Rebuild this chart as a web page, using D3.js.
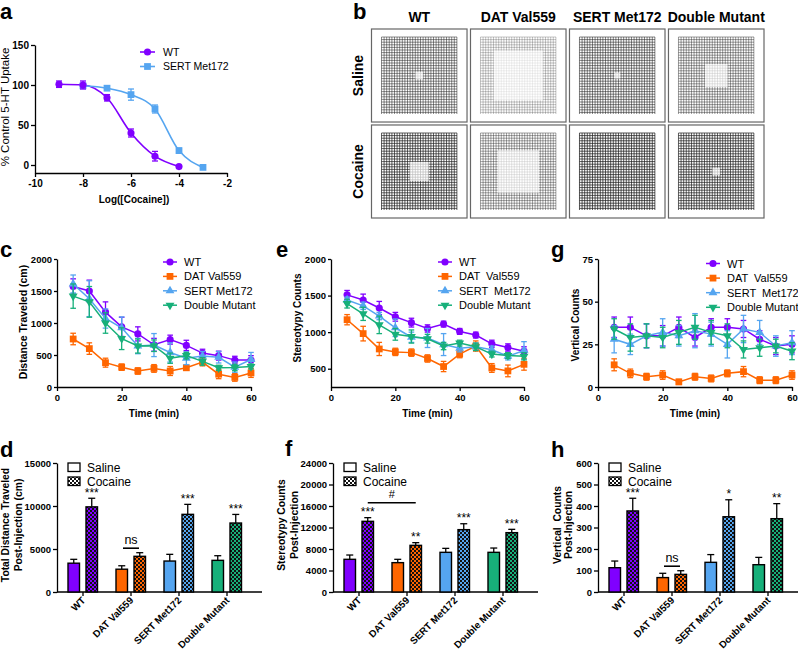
<!DOCTYPE html>
<html><head><meta charset="utf-8">
<script src="https://cdn.jsdelivr.net/npm/d3@7"></script>
<style>body{margin:0;background:#fff}svg{display:block}text{white-space:pre}</style>
</head><body><svg id="fig" width="798" height="652"></svg>
<script>
// ---------- DATA ----------
// Panel a
const wtLogConc = [-9,-8,-7,-6,-5,-4];
const wtUptake = [101,100,84,40,11,-2];
const wtUptakeErr = [4,5,4,5,6,1];
const sertLogConc = [-8,-7,-6,-5,-4,-3];
const sertUptake = [99,96,88,70,18,-3];
const sertUptakeErr = [2,2,7,5,3,1];
const aXTicks = [-10,-8,-6,-4,-2];
const aYTicks = [0,50,100,150];
const aLegend = ["WT","SERT Met172"];

// Panel b
const trackCols = ["WT","DAT Val559","SERT Met172","Double Mutant"];
const trackRows = ["Saline","Cocaine"];
const trackDensity = [[0.7,0.35,0.75,0.6],[0.95,0.55,1.0,0.95]];
const trackCenterClear = [[0.1,0.65,0.08,0.3],[0.25,0.55,0.0,0.1]];

// Panels c, e, g
const timeMin = [5,10,15,20,25,30,35,40,45,50,55,60];
const timeTicks = [0,20,40,60];
const seriesNames = ["WT","DAT Val559","SERT Met172","Double Mutant"];
const seriesNamesWide = ["WT","DAT  Val559","SERT  Met172","Double Mutant"];

const distWT = [1570,1500,1170,940,830,660,740,650,530,490,420,420];
const distWTErr = [120,170,160,150,110,100,70,80,60,70,60,70];
const distDAT = [750,600,380,310,250,290,250,300,390,200,150,220];
const distDATErr = [90,90,70,50,50,60,70,40,60,70,60,70];
const distSERT = [1610,1380,1070,925,640,655,540,450,485,465,310,430];
const distSERTErr = [140,280,150,170,120,180,150,100,70,90,80,110];
const distDM = [1420,1330,1000,755,640,645,450,490,400,300,305,320];
const distDMErr = [190,240,160,170,110,90,80,50,60,40,50,40];
const distYTicks = [0,500,1000,1500,2000];

const stereoWT = [1510,1440,1330,1210,1130,1050,1110,1010,960,840,790,740];
const stereoWTErr = [60,80,90,60,60,50,40,40,40,50,50,60];
const stereoDAT = [1170,980,770,730,720,640,530,700,810,510,470,560];
const stereoDATErr = [70,100,90,50,50,50,70,50,70,60,80,80];
const stereoSERT = [1440,1360,1220,1060,930,920,830,780,800,760,670,750];
const stereoSERTErr = [40,50,50,120,70,130,150,50,50,50,50,120];
const stereoDM = [1390,1250,1100,970,940,910,810,850,800,700,680,670];
const stereoDMErr = [60,90,120,80,90,60,50,40,50,40,40,50];
const stereoYTicks = [500,1000,1500,2000];

const vertWT = [35,35,30,30,35,29,35,35,34,28,24,25];
const vertWTErr = [6,6,7,6,6,5,5,5,5,5,5,5];
const vertDAT = [13,8,6,7,3,6,5,8,9,4,4,7];
const vertDATErr = [3.5,2.5,2,2.5,1.5,2,2,2,3,2,2,2.5];
const vertSERT = [28,25,30,32,30,33,31,25,34,32,24,26];
const vertSERTErr = [8,6,7,8,6,10,7,8,8,7,6,7];
const vertDM = [34,29,30,29,32,35,32,30,22,23,24,21];
const vertDMErr = [6,8,7,6,7,7,7,7,5,5,4,5];
const vertYTicks = [0,25,50,75];

// Panels d, f, h
const groups = ["WT","DAT Val559","SERT Met172","Double Mutant"];
const treatments = ["Saline","Cocaine"];
const totDistSaline = [3350,2650,3600,3680];
const totDistSalineErr = [450,400,780,540];
const totDistCocaine = [9900,4150,9030,8020];
const totDistCocaineErr = [1000,420,1160,1000];
const totDistSig = ["***","","***","***"];
const totDistTicks = [0,5000,10000,15000];

const stereoTotSaline = [6080,5460,7380,7380];
const stereoTotSalineErr = [800,620,740,800];
const stereoTotCocaine = [13150,8680,11600,11040];
const stereoTotCocaineErr = [680,500,1100,620];
const stereoTotSig = ["***","**","***","***"];
const stereoTotTicks = [0,4000,8000,12000,16000,20000,24000];
const stereoHashLevel = 16600;

const vertTotSaline = [113,67,138,127];
const vertTotSalineErr = [31,20,36,34];
const vertTotCocaine = [377,82,350,341];
const vertTotCocaineErr = [59,17,79,70];
const vertTotSig = ["***","","*","**"];
const vertTotTicks = [0,100,200,300,400,500,600];

// ---------- STYLE ----------
const FONT = "'Liberation Sans', Arial, Helvetica, sans-serif";
const colors = ["#8000FF","#FF6600","#55A5F0","#17B07A"];
const svg = d3.select("#fig");
const defs = svg.append("defs");
const fmt = d => d3.format("d")(d).replace("\u2212","-");

function styleAxis(sel, fs){
  sel.attr("font-family",FONT).attr("font-size",fs).attr("font-weight","bold");
  sel.selectAll("path,line").attr("stroke","#000").attr("stroke-width",1.3);
  sel.selectAll("text").attr("fill","#000");
}
function label(x,y,t,opt={}){
  const s = svg.append("text").attr("x",x).attr("y",y).text(t)
    .attr("font-family",FONT).attr("font-size",opt.size||10)
    .attr("font-weight",opt.weight||"normal").attr("fill","#000")
    .attr("text-anchor",opt.anchor||"start");
  if(opt.rotate!==undefined) s.attr("transform",`rotate(${opt.rotate},${x},${y})`);
  return s;
}
function letter(x,y,t){ label(x,y,t,{size:22,weight:"bold"}); }

// patterns
colors.concat(["#FFFFFF"]).forEach((c,i)=>{
  const p = defs.append("pattern").attr("id","chk"+i).attr("patternUnits","userSpaceOnUse")
    .attr("width",4).attr("height",4);
  p.append("rect").attr("width",4).attr("height",4).attr("fill",c);
  p.append("rect").attr("width",2).attr("height",2).attr("fill","#111");
  p.append("rect").attr("x",2).attr("y",2).attr("width",2).attr("height",2).attr("fill","#111");
});

const symTypes = [d3.symbolCircle, d3.symbolSquare, d3.symbolTriangle, d3.symbolTriangle];
const symSizes = [40, 46, 34, 34];
const symRot = [0,0,0,180];
function marker(g,x,y,shape,ci){
  g.append("path").attr("d",d3.symbol().type(symTypes[shape]).size(symSizes[shape])())
    .attr("transform",`translate(${x},${y}) rotate(${symRot[shape]})`).attr("fill",colors[ci]);
}
function errBar(g,x,yLo,yHi,col,cap){
  g.append("line").attr("x1",x).attr("x2",x).attr("y1",yLo).attr("y2",yHi).attr("stroke",col).attr("stroke-width",1.3);
  [yLo,yHi].forEach(yy=>g.append("line").attr("x1",x-cap).attr("x2",x+cap).attr("y1",yy).attr("y2",yy).attr("stroke",col).attr("stroke-width",1.3));
}

// ---------- PANEL A ----------
(function(){
  const g = svg.append("g");
  const x = d3.scaleLinear().domain([-10,-2]).range([35,227]);
  const y = d3.scaleLinear().domain([-10,150]).range([173,45]);
  g.append("g").attr("transform","translate(0,173)")
    .call(d3.axisBottom(x).tickValues(aXTicks).tickSize(4).tickSizeOuter(0).tickPadding(3).tickFormat(fmt))
    .call(s=>styleAxis(s,10));
  g.append("g").attr("transform","translate(35,0)")
    .call(d3.axisLeft(y).tickValues(aYTicks).tickSize(4).tickSizeOuter(0).tickPadding(2).tickFormat(fmt))
    .call(s=>styleAxis(s,10));
  const sets = [[wtLogConc,wtUptake,wtUptakeErr,0,0],[sertLogConc,sertUptake,sertUptakeErr,2,1]];
  const line = d3.line().curve(d3.curveMonotoneX).x(d=>x(d[0])).y(d=>y(d[1]));
  sets.forEach(([xs,ys,es,ci])=>{
    const pts = xs.map((v,i)=>[v,ys[i]]);
    g.append("path").attr("d",line(pts)).attr("fill","none").attr("stroke",colors[ci]).attr("stroke-width",1.6);
  });
  sets.slice().reverse().forEach(([xs,ys,es,ci,sh])=>{
    xs.forEach((v,i)=>{
      errBar(g,x(v),y(ys[i]-es[i]),y(ys[i]+es[i]),colors[ci],3);
      marker(g,x(v),y(ys[i]),sh,ci);
    });
  });
  aLegend.forEach((t,i)=>{
    const yy = 52 + i*14.5, ci = i===0?0:2;
    g.append("line").attr("x1",140).attr("x2",155).attr("y1",yy).attr("y2",yy).attr("stroke",colors[ci]).attr("stroke-width",1.6);
    marker(g,147.5,yy,i,ci);
    label(163,yy+3.8,t,{size:10.5});
  });
  label(134,203,"Log([Cocaine])",{size:10,weight:"bold",anchor:"middle"});
  label(9,107,"% Control 5-HT Uptake",{size:11.5,anchor:"middle",rotate:-90});
  letter(0,19,"a");
})();

// ---------- PANEL B ----------
(function(){
  const g = svg.append("g");
  const bx = d3.scaleBand().domain(trackCols).range([371.5,764]).paddingInner(0.035);
  const by = d3.scaleBand().domain(trackRows).range([29,218]).paddingInner(0.031);
  trackCols.forEach(c=>label(bx(c)+bx.bandwidth()/2,22,c,{size:14,weight:"bold",anchor:"middle"}));
  trackRows.forEach(r=>label(363,by(r)+by.bandwidth()/2,r,{size:14,weight:"bold",anchor:"middle",rotate:-90}));
  trackRows.forEach((r,ri)=>trackCols.forEach((c,ci)=>{
    const x0=bx(c), y0=by(r), w=bx.bandwidth(), h=by.bandwidth();
    const ix=x0+10, iy=y0+8, iw=w-20, ih=h-16;
    const dens = trackDensity[ri][ci];
    let p="";
    for(let k=0;k<=iw;k+=2.6) p+=`M${ix+k},${iy}V${iy+ih}`;
    for(let k=0;k<=ih;k+=2.6) p+=`M${ix},${iy+k}H${ix+iw}`;
    g.append("path").attr("d",p).attr("stroke","#222").attr("stroke-width",0.75).attr("stroke-opacity",dens).attr("fill","none");
    const cl = trackCenterClear[ri][ci];
    if(cl>0){
      const cw=iw*cl, chh=ih*cl;
      g.append("rect").attr("x",ix+(iw-cw)/2).attr("y",iy+(ih-chh)/2).attr("width",cw).attr("height",chh)
        .attr("fill","#fff").attr("fill-opacity",0.7);
    }
    g.append("rect").attr("x",x0).attr("y",y0).attr("width",w).attr("height",h)
      .attr("fill","none").attr("stroke","#666").attr("stroke-width",1.2);
  }));
  letter(353,19,"b");
})();

// ---------- LINE PANELS ----------
function linePanel(cfg){
  const g = svg.append("g");
  const x = d3.scaleLinear().domain([0,60]).range([cfg.left,cfg.right]);
  const y = d3.scaleLinear().domain(cfg.yDomain).range([387,259]);
  g.append("g").attr("transform","translate(0,387)")
    .call(d3.axisBottom(x).tickValues(timeTicks).tickSize(4).tickSizeOuter(0).tickPadding(3).tickFormat(fmt))
    .call(s=>styleAxis(s,9.5));
  g.append("g").attr("transform",`translate(${cfg.left},0)`)
    .call(d3.axisLeft(y).tickValues(cfg.yTicks).tickSize(3).tickSizeOuter(0).tickPadding(2).tickFormat(fmt))
    .call(s=>styleAxis(s,9.5));
  const line = d3.line().x((d,i)=>x(timeMin[i])).y(d=>y(d));
  cfg.series.forEach(([vals,errs],si)=>{
    g.append("path").attr("d",line(vals)).attr("fill","none").attr("stroke",colors[si]).attr("stroke-width",1.5);
    vals.forEach((v,i)=>errBar(g,x(timeMin[i]),y(v-errs[i]),y(v+errs[i]),colors[si],2.8));
    vals.forEach((v,i)=>marker(g,x(timeMin[i]),y(v),si,si));
  });
  cfg.legendNames.forEach((t,i)=>{
    const yy = cfg.legY + i*cfg.legStep;
    g.append("line").attr("x1",cfg.legX).attr("x2",cfg.legX+14).attr("y1",yy).attr("y2",yy).attr("stroke",colors[i]).attr("stroke-width",1.5);
    marker(g,cfg.legX+7,yy,i,i);
    label(cfg.legX+21,yy+4,t,{size:11});
  });
  label((cfg.left+cfg.right)/2,417,"Time (min)",{size:10,weight:"bold",anchor:"middle"});
  label(cfg.titleX,cfg.titleY,cfg.title,{size:cfg.titleSize,weight:"bold",anchor:"middle",rotate:-90});
  letter(cfg.letterX,257,cfg.letter);
}
linePanel({left:57,right:251,yDomain:[0,2000],yTicks:distYTicks,
  series:[[distWT,distWTErr],[distDAT,distDATErr],[distSERT,distSERTErr],[distDM,distDMErr]],
  legendNames:seriesNames,legX:163,legY:262,legStep:14.4,
  title:"Distance Traveled (cm)",titleX:27,titleY:322,titleSize:10.5,letter:"c",letterX:0});
linePanel({left:331,right:524,yDomain:[250,2000],yTicks:stereoYTicks,
  series:[[stereoWT,stereoWTErr],[stereoDAT,stereoDATErr],[stereoSERT,stereoSERTErr],[stereoDM,stereoDMErr]],
  legendNames:seriesNamesWide,legX:438,legY:262,legStep:14.4,
  title:"Stereotypy Counts",titleX:301,titleY:318,titleSize:10,letter:"e",letterX:276});
linePanel({left:598,right:792,yDomain:[0,75],yTicks:vertYTicks,
  series:[[vertWT,vertWTErr],[vertDAT,vertDATErr],[vertSERT,vertSERTErr],[vertDM,vertDMErr]],
  legendNames:seriesNamesWide,legX:706,legY:263.5,legStep:14.6,
  title:"Vertical Counts",titleX:579,titleY:325,titleSize:10,letter:"g",letterX:551});

// ---------- BAR PANELS ----------
function barPanel(cfg){
  const g = svg.append("g");
  const bottom = 592, top = 463;
  const x0 = d3.scaleBand().domain(groups).range([cfg.left+2,cfg.left+2+4*48]);
  const x1 = d3.scaleBand().domain(treatments).range([-15,14.5]).paddingInner(0.361);
  const y = d3.scaleLinear().domain([0,cfg.yMax]).range([bottom,top]);
  g.append("g").attr("transform",`translate(${cfg.left},0)`)
    .call(d3.axisLeft(y).tickValues(cfg.ticks).tickSize(4).tickSizeOuter(0).tickPadding(2).tickFormat(fmt))
    .call(s=>styleAxis(s,9.5));
  g.append("line").attr("x1",cfg.left).attr("x2",cfg.left+205).attr("y1",bottom).attr("y2",bottom).attr("stroke","#000").attr("stroke-width",1.3);
  groups.forEach((grp,gi)=>{
    const c = x0(grp)+x0.bandwidth()/2;
    g.append("line").attr("x1",c).attr("x2",c).attr("y1",bottom).attr("y2",bottom+4).attr("stroke","#000").attr("stroke-width",1.3);
    label(c+3,bottom+9,grp,{size:9.8,weight:"bold",anchor:"end",rotate:-45});
    const vals = [[cfg.sal[gi],cfg.salErr[gi]],[cfg.coc[gi],cfg.cocErr[gi]]];
    vals.forEach(([v,e],ti)=>{
      const bxp = c + x1(treatments[ti]), bw = x1.bandwidth(), bc = bxp+bw/2;
      g.append("line").attr("x1",bc).attr("x2",bc).attr("y1",y(v)).attr("y2",y(v+e)).attr("stroke","#000").attr("stroke-width",1.3);
      g.append("line").attr("x1",bc-3.5).attr("x2",bc+3.5).attr("y1",y(v+e)).attr("y2",y(v+e)).attr("stroke","#000").attr("stroke-width",1.3);
      g.append("rect").attr("x",bxp).attr("y",y(v)).attr("width",bw).attr("height",bottom-y(v))
        .attr("fill",ti===0?colors[gi]:`url(#chk${gi})`).attr("stroke","#000").attr("stroke-width",1.4);
    });
    const s = cfg.sig[gi];
    const cc = c + x1("Cocaine") + x1.bandwidth()/2;
    if(s) label(cc,y(cfg.coc[gi]+cfg.cocErr[gi])-1.5,s,{size:12,anchor:"middle"});
  });
  const lx = cfg.left+11;
  g.append("rect").attr("x",lx).attr("y",463).attr("width",12).attr("height",8.5).attr("fill","#fff").attr("stroke","#000").attr("stroke-width",1.3);
  g.append("rect").attr("x",lx).attr("y",477).attr("width",12).attr("height",8.5).attr("fill","url(#chk4)").attr("stroke","#000").attr("stroke-width",1.3);
  label(lx+19,472,treatments[0],{size:12});
  label(lx+19,486,treatments[1],{size:12});
  if(cfg.ns){
    const c = x0(groups[1])+x0.bandwidth()/2;
    const topErr = Math.min(y(cfg.sal[1]+cfg.salErr[1]), y(cfg.coc[1]+cfg.cocErr[1]));
    const ly = topErr-4.5;
    g.append("line").attr("x1",c-8).attr("x2",c+8).attr("y1",ly).attr("y2",ly).attr("stroke","#000").attr("stroke-width",1.6);
    label(c,ly-4.5,"ns",{size:12.5,anchor:"middle"});
  }
  if(cfg.hash){
    const c0 = x0(groups[0])+x0.bandwidth()/2 + x1("Cocaine") + x1.bandwidth()/2;
    const c1 = x0(groups[1])+x0.bandwidth()/2 + x1("Cocaine") + x1.bandwidth()/2;
    const ly = y(cfg.hash);
    g.append("line").attr("x1",c0).attr("x2",c1).attr("y1",ly).attr("y2",ly).attr("stroke","#000").attr("stroke-width",1.6);
    label((c0+c1)/2,ly-5,"#",{size:11,anchor:"middle"});
  }
  cfg.titles.forEach((t,i)=>label(cfg.titleX+i*cfg.titleDx,525,t,{size:10.3,weight:"bold",anchor:"middle",rotate:-90}));
  letter(cfg.letterX,cfg.letterY,cfg.letter);
}
barPanel({left:57,yMax:15000,ticks:totDistTicks,sal:totDistSaline,salErr:totDistSalineErr,coc:totDistCocaine,cocErr:totDistCocaineErr,
  sig:totDistSig,ns:true,titles:["Total Distance Traveled","Post-Injection (cm)"],titleX:8.5,titleDx:13,letter:"d",letterX:0,letterY:457});
barPanel({left:333,yMax:24000,ticks:stereoTotTicks,sal:stereoTotSaline,salErr:stereoTotSalineErr,coc:stereoTotCocaine,cocErr:stereoTotCocaineErr,
  sig:stereoTotSig,hash:stereoHashLevel,titles:["Stereotypy Counts","Post-Injection"],titleX:285,titleDx:12.5,letter:"f",letterX:285,letterY:456});
barPanel({left:598,yMax:600,ticks:vertTotTicks,sal:vertTotSaline,salErr:vertTotSalineErr,coc:vertTotCocaine,cocErr:vertTotCocaineErr,
  sig:vertTotSig,ns:true,titles:["Vertical  Counts","Post-Injection"],titleX:561,titleDx:11,letter:"h",letterX:551,letterY:457});
</script></body></html>
